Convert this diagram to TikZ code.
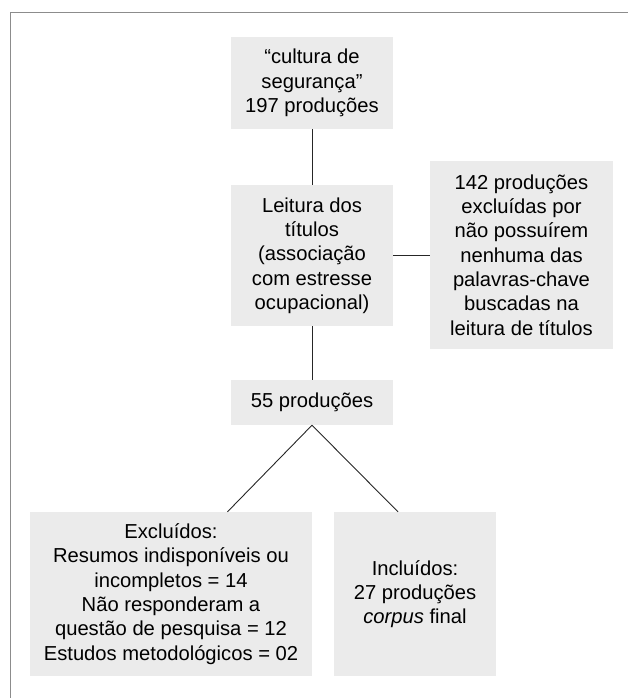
\documentclass[tikz,border=0pt]{standalone}
\usepackage{fontspec}
\setmainfont{Liberation Sans}
\usetikzlibrary{calc}
\definecolor{boxgray}{HTML}{EBEBEB}
\definecolor{framegray}{HTML}{8C8C8C}
\begin{document}
\begin{tikzpicture}[x=1pt,y=-1pt,
  box/.style={fill=boxgray, draw=none, align=center, inner sep=0pt,
    font=\fontsize{20.2}{24.3}\selectfont},
  conn/.style={draw=black!85, line width=0.9pt}]
\useasboundingbox (0,0) rectangle (628,698);
\draw[framegray, line width=1pt] (10,698) -- (10,13) -- (628,13);
\node[box, minimum width=162pt, minimum height=92pt] (top) at (312,83)
  {“cultura de\\ segurança”\\ 197 produções};
\node[box, minimum width=162pt, minimum height=141pt] (lei) at (312,255.5)
  {Leitura dos\\ títulos\\ (associação\\ com estresse\\ ocupacional)};
\node[box, minimum width=183pt, minimum height=188pt] (exc1) at (521.5,255)
  {142 produções\\ excluídas por\\ não possuírem\\ nenhuma das\\ palavras-chave\\ buscadas na\\ leitura de títulos};
\node[box, minimum width=162pt, minimum height=45pt] (p55) at (312,402.5)
  {55 produções};
\node[box, minimum width=282pt, minimum height=164pt] (exc) at (171,594)
  {Excluídos:\\ Resumos indisponíveis ou\\ incompletos = 14\\ Não responderam a\\ questão de pesquisa = 12\\ Estudos metodológicos = 02};
\node[box, minimum width=162pt, minimum height=164pt] (inc) at (415,594)
  {Incluídos:\\ 27 produções\\ \textit{corpus} final};
\draw[conn] (top.south) -- (lei.north);
\draw[conn] (lei.south) -- (p55.north);
\draw[conn] (lei.east) -- (exc1.west |- lei.east);
\draw[conn] (p55.south) -- ($(exc.north west)!0.70!(exc.north east)$);
\draw[conn] (p55.south) -- ($(inc.north west)!0.395!(inc.north east)$);
\end{tikzpicture}
\end{document}
